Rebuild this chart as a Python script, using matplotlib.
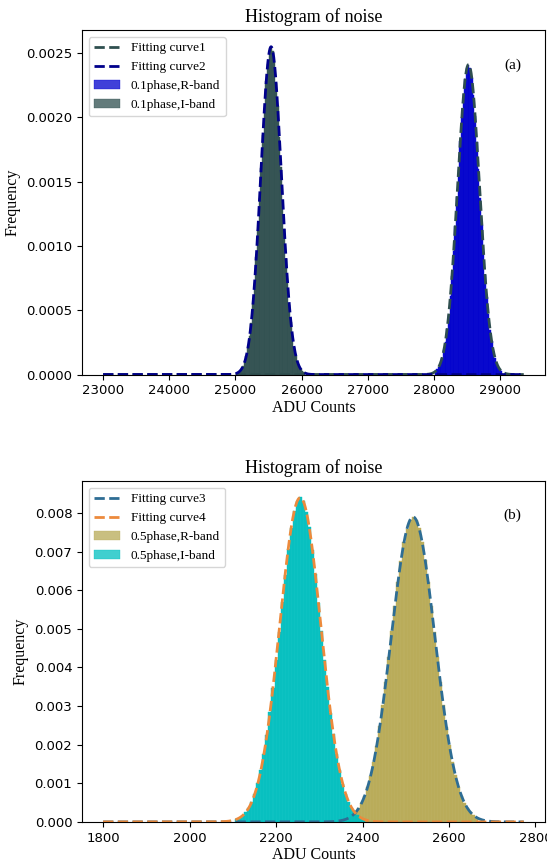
import numpy as np
import matplotlib
matplotlib.use("Agg")
import matplotlib.pyplot as plt

# ---- panel (a): 0.1 phase ----
bin_width_a = 25
r_start_a = 28012.5
r_heights_a = [0.000024, 0.000040, 0.000058, 0.000091, 0.000128, 0.000187, 0.000255, 0.000354,
               0.000462, 0.000609, 0.000766, 0.000961, 0.001156, 0.001382, 0.001594, 0.001817,
               0.002004, 0.002179, 0.002298, 0.002387, 0.002408, 0.002380, 0.002307, 0.002171,
               0.002012, 0.001806, 0.001601, 0.001373, 0.001165, 0.000952, 0.000773, 0.000603,
               0.000469, 0.000348, 0.000260, 0.000183, 0.000132, 0.000087, 0.000061, 0.000038,
               0.000026]
i_start_a = 25027.5
i_heights_a = [0.000015, 0.000027, 0.000040, 0.000066, 0.000095, 0.000146, 0.000207, 0.000298,
               0.000402, 0.000549, 0.000708, 0.000911, 0.001122, 0.001370, 0.001606, 0.001860,
               0.002072, 0.002280, 0.002418, 0.002522, 0.002548, 0.002514, 0.002428, 0.002266,
               0.002085, 0.001848, 0.001617, 0.001359, 0.001132, 0.000902, 0.000716, 0.000541,
               0.000410, 0.000292, 0.000211, 0.000142, 0.000099, 0.000062, 0.000042, 0.000025,
               0.000017]
# fitted gaussian parameters (mu, sigma)
fit1 = (28525, 165.5)
fit2 = (25540, 156.5)
fit_range_a = (23000, 29360)

# ---- panel (b): 0.5 phase ----
bin_width_b = 7
r_start_b = 2366.5
r_heights_b = [0.000116, 0.000167, 0.000250, 0.000349, 0.000495, 0.000672, 0.000914, 0.001198,
               0.001562, 0.001976, 0.002475, 0.003018, 0.003634, 0.004266, 0.004940, 0.005584,
               0.006220, 0.006768, 0.007252, 0.007596, 0.007830, 0.007898, 0.007818, 0.007608,
               0.007240, 0.006780, 0.006206, 0.005596, 0.004928, 0.004278, 0.003622, 0.003029,
               0.002464, 0.001987, 0.001552, 0.001206, 0.000906, 0.000678, 0.000489, 0.000355,
               0.000245, 0.000171, 0.000112]
i_start_b = 2105.5
i_heights_b = [0.000068, 0.000112, 0.000163, 0.000252, 0.000360, 0.000526, 0.000724, 0.001006,
               0.001332, 0.001768, 0.002249, 0.002845, 0.003478, 0.004201, 0.004925, 0.005690,
               0.006394, 0.007068, 0.007610, 0.008051, 0.008302, 0.008405, 0.008315, 0.008036,
               0.007626, 0.007052, 0.006410, 0.005674, 0.004942, 0.004183, 0.003494, 0.002828,
               0.002266, 0.001751, 0.001348, 0.000992, 0.000736, 0.000516, 0.000368, 0.000246,
               0.000170, 0.000106, 0.000071]
fit3 = (2517, 50.5)
fit4 = (2256, 47.5)
fit_range_b = (1800, 2773)

serif = "Liberation Serif"


def gauss(x, mu, sigma):
    return np.exp(-0.5 * ((x - mu) / sigma) ** 2) / (sigma * np.sqrt(2 * np.pi))


def draw_hist(ax, start, width, heights, color, label):
    edges = start + width * np.arange(len(heights) + 1)
    ax.hist(edges[:-1], bins=edges, weights=heights, color=color, alpha=0.95,
            edgecolor=color, linewidth=0.3, label=label)


def style(ax, tag):
    ax.set_title("Histogram of noise", fontsize=13, family=serif)
    ax.set_xlabel("ADU Counts", fontsize=11.5, family=serif, labelpad=2)
    ax.set_ylabel("Frequency", fontsize=11.5, family=serif)
    ax.tick_params(labelsize=9.5)
    ax.text(0.93, 0.9, tag, transform=ax.transAxes, ha="center", va="center",
            fontsize=11, family=serif)
    handles, labels = ax.get_legend_handles_labels()
    lines = [i for i, h in enumerate(handles) if isinstance(h, plt.Line2D)]
    others = [i for i in range(len(handles)) if i not in lines]
    order = lines + others
    leg = ax.legend([handles[i] for i in order], [labels[i] for i in order],
                    loc="upper left", prop={"family": serif, "size": 9.5})
    for h in leg.legend_handles:
        if not isinstance(h, plt.Line2D):
            h.set_alpha(0.75)


fig = plt.figure(figsize=(5.47, 8.67), dpi=100)
ax1 = fig.add_axes([0.15, 0.568, 0.846, 0.397])
ax2 = fig.add_axes([0.15, 0.052, 0.846, 0.393])

# (a)
draw_hist(ax1, r_start_a, bin_width_a, r_heights_a, "mediumblue", "0.1phase,R-band")
draw_hist(ax1, i_start_a, bin_width_a, i_heights_a, "darkslategray", "0.1phase,I-band")
xa = np.linspace(fit_range_a[0], fit_range_a[1], 2000)
ax1.plot(xa, gauss(xa, *fit1), "--", color="darkslategray", lw=2, label="Fitting curve1")
ax1.plot(xa, gauss(xa, *fit2), "--", color="darkblue", lw=2, label="Fitting curve2")
style(ax1, "(a)")

# (b)
draw_hist(ax2, r_start_b, bin_width_b, r_heights_b, "#b8aa55", "0.5phase,R-band")
draw_hist(ax2, i_start_b, bin_width_b, i_heights_b, "c", "0.5phase,I-band")
xb = np.linspace(fit_range_b[0], fit_range_b[1], 2000)
ax2.plot(xb, gauss(xb, *fit3), "--", color="#2e6d94", lw=2, label="Fitting curve3")
ax2.plot(xb, gauss(xb, *fit4), "--", color="#ec8a3c", lw=2, label="Fitting curve4")
style(ax2, "(b)")

fig.savefig("out.png", dpi=100)
